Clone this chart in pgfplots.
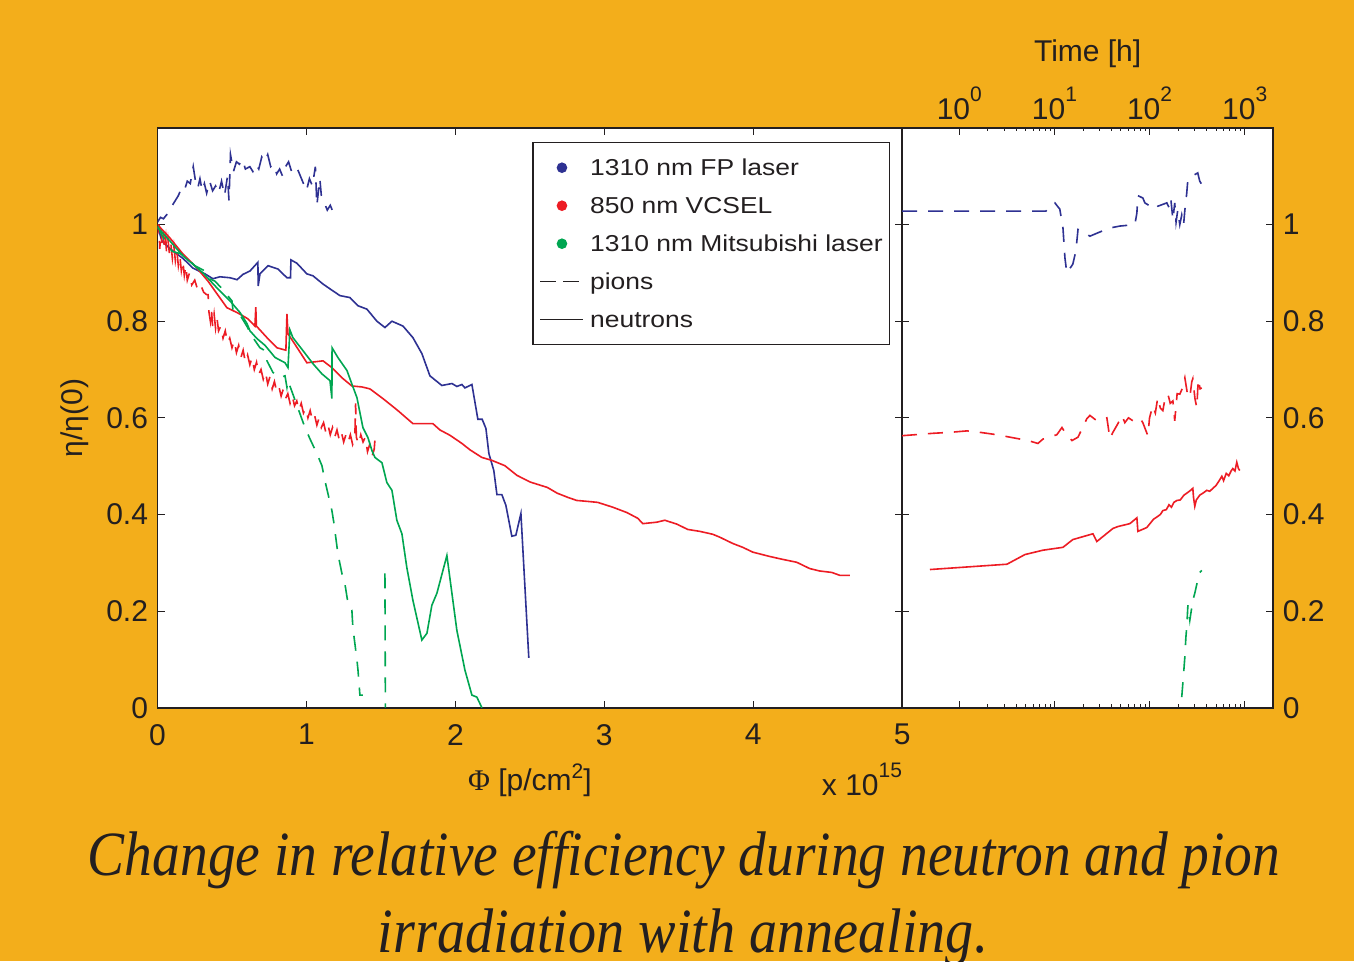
\documentclass[border=0pt]{standalone}
\usepackage{pgfplots}
\pgfplotsset{compat=1.18}
\usepackage{graphicx}
\usepackage{fontspec}
\setmainfont{Liberation Sans}
\newfontfamily\capfont{Liberation Serif}
\newfontfamily\legfont{Liberation Sans}[FakeStretch=1.15]
\definecolor{bg}{RGB}{243,174,27}
\definecolor{fpblue}{RGB}{46,49,146}
\definecolor{vred}{RGB}{237,28,36}
\definecolor{mgreen}{RGB}{0,166,81}
\definecolor{axc}{RGB}{35,31,32}
\newcommand{\sups}[2][18pt]{\raisebox{#1}{\fontsize{21}{21}\selectfont #2}}
\pgfplotsset{
  pionline/.style={line width=1.6pt, dash pattern=on 15pt off 11pt},
  neutline/.style={line width=1.6pt},
}
\begin{document}
\begin{tikzpicture}[x=1pt,y=1pt]
\fill[bg] (0,0) rectangle (1354,961);
\begin{scope}
\clip (0,0) rectangle (1354,961);
\node[anchor=base, inner sep=0pt, text=axc] at (684,86) {\resizebox{1192pt}{\height}{\fontsize{63}{63}\selectfont\capfont\itshape Change in relative efficiency during neutron and pion}};
\node[anchor=base, inner sep=0pt, text=axc] at (683,9) {\resizebox{610pt}{\height}{\fontsize{63}{63}\selectfont\capfont\itshape irradiation with annealing.}};
\end{scope}

% ---------------- left axis: fluence ----------------
\begin{axis}[
  at={(157.5pt,253.3pt)}, anchor=south west,
  width=744.7pt, height=579.7pt, scale only axis,
  clip mode=individual,
  xmin=0, xmax=5, ymin=0, ymax=1.2,
  axis background/.style={fill=white},
  xtick={0,1,2,3,4,5}, xticklabels={0,1,2,3,4,5},
  ytick={0,0.2,0.4,0.6,0.8,1}, yticklabels={0,0.2,0.4,0.6,0.8,1},
  tick label style={font=\fontsize{30}{36}\selectfont, text=axc},
  xticklabel style={yshift=-13pt},
  yticklabel style={xshift=-6pt},
  label style={font=\fontsize{30}{36}\selectfont, text=axc},
  major tick length=7pt,
  every tick/.style={axc, line width=1pt},
  axis line style={axc, line width=1.8pt},
  xlabel={{\capfont Φ} [p/cm\sups[12pt]{2}]},
  xlabel style={at={(axis description cs:0.5,-0.142)}, anchor=base},
  ylabel={η/η(0)},
  ylabel style={at={(axis description cs:-0.1108,0.5)}, anchor=center},
  legend style={at={(rel axis cs:0.5029,0.9759)}, anchor=north west,
    draw=axc, line width=1.5pt, fill=white,
    font=\legfont\fontsize{23}{27}\selectfont, text=axc,
    inner xsep=7pt, inner ysep=14pt, row sep=16pt, column sep=6pt,
    nodes={inner sep=0pt, text height=19pt, text depth=3pt}},
  legend cell align=left,
]
% pions, 1310 nm FP laser
\addplot[fpblue, pionline, forget plot] coordinates {
(0.00,1.005) (0.02,1.015) (0.04,1.012) (0.06,1.02) (0.08,1.025) (0.10,1.04) (0.12,1.05)
(0.14,1.06) (0.16,1.075) (0.18,1.07) (0.20,1.09) (0.22,1.085) (0.24,1.12) (0.255,1.09)
(0.27,1.075) (0.285,1.095) (0.30,1.07) (0.315,1.085) (0.33,1.065) (0.35,1.09) (0.37,1.07)
(0.39,1.08) (0.41,1.065) (0.43,1.09) (0.45,1.06) (0.47,1.10) (0.48,1.05) (0.49,1.145)
(0.51,1.11) (0.53,1.13) (0.55,1.125) (0.57,1.135) (0.59,1.115) (0.62,1.12) (0.64,1.11)
(0.66,1.125) (0.68,1.115) (0.70,1.14) (0.72,1.13) (0.74,1.145) (0.76,1.12) (0.78,1.125)
(0.80,1.105) (0.82,1.115) (0.84,1.10) (0.86,1.12) (0.88,1.13) (0.90,1.11) (0.92,1.12)
(0.94,1.115) (0.96,1.10) (0.98,1.085) (1.00,1.07) (1.02,1.095) (1.04,1.08) (1.06,1.12)
(1.07,1.04) (1.09,1.095) (1.10,1.06) (1.12,1.045) (1.14,1.03) (1.16,1.04) (1.18,1.025)
};
% neutrons, 1310 nm FP laser
\addplot[fpblue, neutline, forget plot] coordinates {
(0,0.997) (0.03,0.966) (0.084,0.95) (0.171,0.93) (0.238,0.91) (0.319,0.898) (0.372,0.888)
(0.419,0.892) (0.487,0.89) (0.534,0.886) (0.574,0.897) (0.621,0.904) (0.674,0.922)
(0.676,0.873) (0.688,0.898) (0.742,0.915) (0.809,0.908) (0.869,0.89) (0.893,0.89)
(0.896,0.927) (0.936,0.92) (1.003,0.898) (1.044,0.894) (1.111,0.877) (1.158,0.867)
(1.225,0.853) (1.292,0.849) (1.346,0.832) (1.406,0.825) (1.473,0.80) (1.527,0.787)
(1.574,0.80) (1.648,0.79) (1.715,0.766) (1.775,0.733) (1.829,0.687) (1.909,0.667)
(1.977,0.671) (2.01,0.665) (2.044,0.669) (2.064,0.662) (2.111,0.669) (2.151,0.597)
(2.18,0.597) (2.205,0.578) (2.225,0.526) (2.258,0.491) (2.279,0.441) (2.312,0.441)
(2.339,0.419) (2.379,0.355) (2.406,0.357) (2.44,0.402) (2.493,0.103)
};
% pions, 850 nm VCSEL
\addplot[vred, pionline, forget plot] coordinates {
(0.000,0.98) (0.010,1.00) (0.015,0.95) (0.025,0.99) (0.030,0.96) (0.040,0.985) (0.045,0.955)
(0.055,0.975) (0.060,0.945) (0.070,0.97) (0.080,0.94) (0.090,0.96) (0.100,0.93) (0.110,0.955)
(0.120,0.925) (0.130,0.945) (0.140,0.915) (0.150,0.935) (0.160,0.905) (0.170,0.925)
(0.180,0.895) (0.190,0.915) (0.200,0.885) (0.215,0.90) (0.230,0.875) (0.250,0.885)
(0.270,0.865) (0.290,0.875) (0.310,0.86) (0.330,0.855) (0.340,0.855) (0.345,0.82)
(0.355,0.80) (0.362,0.825) (0.370,0.79) (0.380,0.815) (0.390,0.785) (0.400,0.805)
(0.410,0.78) (0.425,0.79) (0.440,0.765) (0.455,0.78) (0.470,0.755) (0.485,0.765)
(0.500,0.745) (0.515,0.76) (0.530,0.735) (0.545,0.75) (0.560,0.725) (0.575,0.74)
(0.590,0.715) (0.605,0.73) (0.620,0.71) (0.635,0.725) (0.650,0.70) (0.665,0.715)
(0.680,0.69) (0.695,0.70) (0.710,0.68) (0.725,0.695) (0.740,0.67) (0.755,0.685)
(0.770,0.66) (0.785,0.675) (0.800,0.655) (0.815,0.665) (0.830,0.645) (0.845,0.66)
(0.860,0.64) (0.875,0.65) (0.890,0.63) (0.905,0.645) (0.920,0.625) (0.935,0.635)
(0.950,0.615) (0.965,0.63) (0.980,0.61) (0.995,0.62) (1.010,0.60) (1.025,0.615)
(1.040,0.595) (1.055,0.605) (1.070,0.585) (1.085,0.60) (1.100,0.58) (1.115,0.59)
(1.130,0.57) (1.145,0.585) (1.160,0.565) (1.175,0.58) (1.190,0.56) (1.205,0.575)
(1.220,0.555) (1.235,0.57) (1.250,0.55) (1.265,0.565) (1.280,0.55) (1.295,0.565)
(1.310,0.545) (1.325,0.56) (1.330,0.63) (1.335,0.56) (1.350,0.545) (1.365,0.565)
(1.380,0.55) (1.395,0.56) (1.410,0.53) (1.425,0.545) (1.440,0.52) (1.455,0.535) (1.465,0.575)
};
% neutrons, 850 nm VCSEL
\addplot[vred, neutline, forget plot] coordinates {
(0,1.0) (0.084,0.972) (0.171,0.939) (0.265,0.91) (0.339,0.883) (0.399,0.857) (0.466,0.828)
(0.540,0.817) (0.607,0.805) (0.654,0.79) (0.660,0.829) (0.664,0.79) (0.735,0.766)
(0.802,0.745) (0.862,0.74) (0.869,0.815) (0.876,0.774) (0.936,0.746) (1.003,0.714)
(1.111,0.718) (1.171,0.704) (1.238,0.683) (1.305,0.666) (1.372,0.664) (1.426,0.66)
(1.513,0.64) (1.614,0.615) (1.715,0.588) (1.849,0.588) (1.896,0.575) (1.963,0.564)
(2.044,0.547) (2.097,0.534) (2.178,0.518) (2.245,0.512) (2.332,0.501) (2.413,0.481)
(2.503,0.467) (2.617,0.456) (2.684,0.444) (2.758,0.435) (2.815,0.429) (2.889,0.427)
(2.956,0.425) (3.057,0.415) (3.151,0.404) (3.225,0.392) (3.258,0.381) (3.352,0.384)
(3.406,0.388) (3.487,0.38) (3.56,0.369) (3.641,0.365) (3.728,0.359) (3.775,0.353)
(3.862,0.34) (3.929,0.332) (3.997,0.322) (4.111,0.313) (4.198,0.307) (4.292,0.301)
(4.379,0.288) (4.446,0.283) (4.527,0.28) (4.581,0.274) (4.648,0.274)
};
% pions, 1310 nm Mitsubishi laser
\addplot[mgreen, pionline, forget plot] coordinates {
(0,0.997) (0.05,0.966) (0.097,0.945) (0.151,0.94) (0.185,0.935) (0.25,0.915) (0.319,0.904)
(0.332,0.89) (0.386,0.883) (0.44,0.865) (0.5,0.842) (0.507,0.822) (0.56,0.81) (0.607,0.786)
(0.621,0.775) (0.688,0.745) (0.722,0.739) (0.735,0.718) (0.775,0.694) (0.822,0.683)
(0.856,0.687) (0.869,0.663) (0.876,0.677) (0.99,0.58) (1.023,0.557) (1.07,0.526)
(1.104,0.501) (1.124,0.47) (1.171,0.408) (1.185,0.381) (1.211,0.319) (1.238,0.278)
(1.258,0.257) (1.279,0.216) (1.305,0.202) (1.312,0.165) (1.339,0.099) (1.346,0.078)
(1.359,0.026) (1.379,0.026)
};
\addplot[mgreen, pionline, forget plot] coordinates {(1.527,0.278) (1.530,0.0)};
% neutrons, 1310 nm Mitsubishi laser
\addplot[mgreen, neutline, forget plot] coordinates {
(0,0.995) (0.084,0.966) (0.171,0.935) (0.238,0.918) (0.305,0.90) (0.399,0.869)
(0.487,0.842) (0.554,0.818) (0.601,0.795) (0.621,0.78) (0.668,0.764) (0.722,0.75)
(0.789,0.725) (0.856,0.714) (0.876,0.704) (0.889,0.782) (0.909,0.766) (0.977,0.739)
(1.044,0.712) (1.104,0.691) (1.158,0.677) (1.171,0.64) (1.172,0.745) (1.211,0.725)
(1.272,0.698) (1.305,0.67) (1.339,0.642) (1.379,0.58) (1.413,0.559) (1.44,0.532)
(1.46,0.518) (1.507,0.507) (1.54,0.466) (1.574,0.45) (1.607,0.388) (1.641,0.36)
(1.674,0.29) (1.715,0.222) (1.775,0.14) (1.809,0.154) (1.842,0.212) (1.876,0.237)
(1.943,0.315) (2.01,0.16) (2.064,0.078) (2.111,0.026) (2.144,0.022) (2.178,0.0)
};
\addlegendimage{fpblue, legend image code/.code={\fill[fpblue] (21.5pt,0pt) circle (4.5pt);}}
\addlegendimage{vred, legend image code/.code={\fill[vred] (21.5pt,0pt) circle (4.5pt);}}
\addlegendimage{mgreen, legend image code/.code={\fill[mgreen] (21.5pt,0pt) circle (4.5pt);}}
\addlegendimage{axc, legend image code/.code={\draw[axc, line width=1.4pt, dash pattern=on 16pt off 7pt] (0pt,0pt) -- (43pt,0pt);}}
\addlegendimage{axc, legend image code/.code={\draw[axc, line width=1.4pt] (0pt,0pt) -- (43pt,0pt);}}
\legend{1310 nm FP laser, 850 nm VCSEL, 1310 nm Mitsubishi laser, pions, neutrons}
\node[anchor=base east, inner sep=0pt, text=axc, font=\fontsize{30}{36}\selectfont] at (axis description cs:1,-0.1506) {x 10\sups{15}};
\end{axis}

% ---------------- right axis: annealing time ----------------
\begin{axis}[
  at={(902pt,253.3pt)}, anchor=south west,
  width=371.3pt, height=579.7pt, scale only axis,
  xmode=log, xmin=0.25, xmax=2000, ymin=0, ymax=1.2,
  axis background/.style={fill=white},
  xtick={1,10,100,1000},
  xticklabels={10\sups{0},10\sups{1},10\sups{2},10\sups{3}},
  xticklabel pos=right, yticklabel pos=right,
  ytick={0,0.2,0.4,0.6,0.8,1}, yticklabels={0,0.2,0.4,0.6,0.8,1},
  tick label style={font=\fontsize{30}{36}\selectfont, text=axc},
  xticklabel style={yshift=5pt},
  yticklabel style={xshift=6pt},
  label style={font=\fontsize{30}{36}\selectfont, text=axc},
  major tick length=7pt, minor tick length=3.5pt,
  every tick/.style={axc, line width=1pt},
  axis line style={axc, line width=1.8pt},
  xlabel={Time [h]},
  xlabel style={at={(axis description cs:0.5,1.1139)}, anchor=base},
]
% pions, FP laser
\addplot[fpblue, pionline] coordinates {
(0.25,1.028) (8.15,1.028) (10.1,1.045) (11.4,1.032) (12.3,0.993) (12.9,0.931) (13.5,0.90)
(15.6,0.918) (16.8,0.945) (17.7,0.99) (19.5,0.987) (23.6,0.976) (28.6,0.983) (38.3,0.993)
(48.8,0.997) (70.1,1.0) (73.6,1.024) (75.4,1.06) (85.1,1.055) (89.3,1.045) (114,1.032)
(122,1.038) (152,1.045) (163,1.032) (168,1.05) (176,1.01) (184,1.045) (190,1.005)
(198,1.03) (208,1.0) (218,1.02) (228,1.0) (235,1.03) (246,1.065) (253,1.094) (278,1.10)
(321,1.107) (337,1.09) (354,1.083)
};
% pions, VCSEL
\addplot[vred, pionline] coordinates {
(0.25,0.563) (0.53,0.568) (0.80,0.57) (1.205,0.573) (1.65,0.57) (2.49,0.565) (3.41,0.56)
(5.27,0.553) (6.71,0.547) (7.57,0.556) (10.6,0.565) (12.0,0.58) (12.9,0.57) (15.3,0.553)
(17.7,0.56) (21.9,0.598) (23.6,0.605) (27.9,0.594) (35.6,0.6) (38.3,0.557) (41.2,0.57)
(46.5,0.588) (51.2,0.605) (55,0.59) (60,0.6) (66.8,0.594) (79.1,0.6) (85,0.59) (96.0,0.563)
(100,0.60) (108,0.625) (115,0.61) (122,0.642) (130,0.62) (138,0.615) (147,0.645)
(156,0.649) (165,0.63) (176,0.635) (184,0.594) (195,0.65) (208,0.649) (220,0.66)
(235,0.683) (250,0.65) (265,0.642) (278,0.675) (285,0.681) (300,0.64) (314,0.621)
(325,0.68) (340,0.66) (354,0.662)
};
% neutrons, VCSEL
\addplot[vred, neutline] coordinates {
(0.492,0.286) (3.17,0.297) (4.90,0.317) (7.57,0.326) (12.3,0.332) (15.6,0.348) (25.4,0.36)
(27.9,0.344) (41.2,0.371) (46.5,0.375) (62.1,0.381) (73.6,0.393) (75.4,0.365) (93.7,0.373)
(100,0.38) (110,0.39) (120,0.395) (130,0.40) (138,0.408) (150,0.41) (160,0.42) (170,0.415)
(180,0.425) (194,0.429) (210,0.43) (230,0.44) (250,0.445) (270,0.45) (285,0.454)
(290,0.435) (299,0.417) (310,0.43) (337,0.44) (370,0.445) (400,0.45) (430,0.448)
(462,0.454) (500,0.46) (540,0.47) (575,0.479) (600,0.47) (640,0.485) (680,0.48)
(720,0.49) (750,0.495) (790,0.49) (826,0.508) (860,0.495) (888,0.491)
};
% pions, Mitsubishi
\addplot[mgreen, pionline] coordinates {
(218,0.022) (224,0.051) (235,0.105) (241,0.146) (246,0.167) (253,0.212) (265,0.181)
(285,0.222) (299,0.237) (321,0.264) (337,0.28) (354,0.284)
};
\end{axis}
\pgfresetboundingbox
\path[use as bounding box] (0,0) rectangle (1354,961);
\end{tikzpicture}
\end{document}
